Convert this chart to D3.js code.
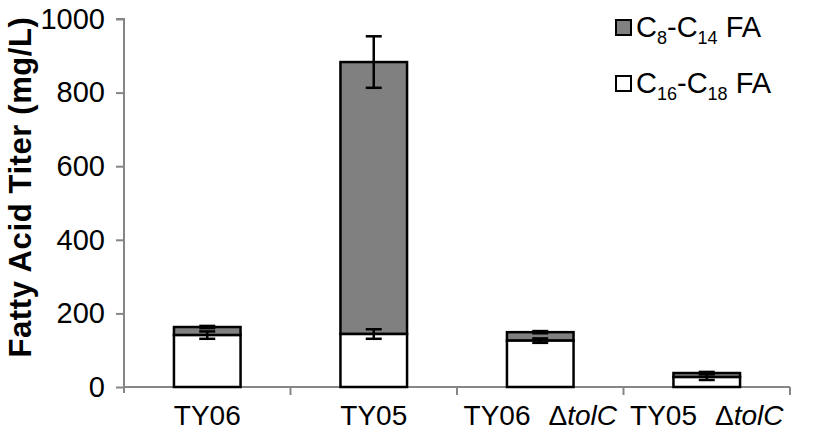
<!DOCTYPE html>
<html><head><meta charset="utf-8">
<script src="https://cdn.jsdelivr.net/npm/d3@7"></script>
<style>body{margin:0;background:#fff;} svg{display:block;font-family:"Liberation Sans",Arial,sans-serif;}</style>
</head><body>
<svg id="c" width="816" height="442"></svg>
<script>
const categories = ["TY06", "TY05", "TY06 ΔtolC", "TY05 ΔtolC"];
const longChain = [141, 144, 126, 27];      // C16-C18 FA
const mediumChain = [22, 739, 23, 11];      // C8-C14 FA (stacked on top)
const longErr = [10, 13, 6, 8];
const totalErr = [3, 70, 3, 3];
const yTicks = [0, 200, 400, 600, 800, 1000];

const svg = d3.select("#c");
const m = {left: 124, right: 790, top: 19, bottom: 387};
const x = d3.scaleBand().domain(categories).range([m.left, m.right]).paddingInner(0).paddingOuter(0);
const y = d3.scaleLinear().domain([0, 1000]).range([m.bottom, m.top]);
const axisColor = "#868686";
const bw = x.bandwidth() * 0.40;

// y axis
const ya = svg.append("g").attr("transform", `translate(${m.left},0)`)
  .call(d3.axisLeft(y).tickValues(yTicks).tickSize(8).tickPadding(11).tickFormat(d3.format("d")));
ya.select(".domain").attr("stroke", axisColor).attr("stroke-width", 2).attr("d", `M-8,${y(1000)}H0V${m.bottom+6}`);
ya.selectAll(".tick line").attr("stroke", axisColor).attr("stroke-width", 2);
ya.selectAll(".tick text").attr("font-size", 29).attr("fill", "#000").attr("font-family", "Liberation Sans, Arial, sans-serif");

// x axis
const xa = svg.append("g").attr("transform", `translate(0,${m.bottom})`);
xa.append("line").attr("x1", m.left).attr("x2", m.right).attr("stroke", axisColor).attr("stroke-width", 2);
const bounds = categories.map(c => x(c)).concat([m.right]);
xa.selectAll("line.t").data(bounds.slice(1)).join("line").attr("class","t")
  .attr("x1", d => d).attr("x2", d => d).attr("y1", 0).attr("y2", 8)
  .attr("stroke", axisColor).attr("stroke-width", 2);

const lbl = xa.selectAll("text").data(categories).join("text")
  .attr("x", d => x(d) + x.bandwidth()/2).attr("y", 38)
  .attr("text-anchor", "middle").attr("font-size", 28).attr("fill", "#000");
lbl.each(function(d){
  const t = d3.select(this);
  const parts = d.split(" ");
  t.append("tspan").text(parts[0]);
  if (parts[1]) {
    t.append("tspan").attr("dx", 18).text("Δ");
    t.append("tspan").attr("font-style", "italic").text(parts[1].slice(1));
  }
});

// bars
const g = svg.append("g");
categories.forEach((c, i) => {
  const cx = x(c) + x.bandwidth()/2;
  const total = longChain[i] + mediumChain[i];
  g.append("rect").attr("x", cx - bw/2).attr("width", bw)
    .attr("y", y(total)).attr("height", y(longChain[i]) - y(total))
    .attr("fill", "#808080").attr("stroke", "#000").attr("stroke-width", 2.5);
  g.append("rect").attr("x", cx - bw/2).attr("width", bw)
    .attr("y", y(longChain[i])).attr("height", y(0) - y(longChain[i]))
    .attr("fill", "#fff").attr("stroke", "#000").attr("stroke-width", 2.5);
});
// error bars
const cap = 8;
function errBar(cx, v, e) {
  g.append("line").attr("x1", cx).attr("x2", cx).attr("y1", y(v - e)).attr("y2", y(v + e))
    .attr("stroke", "#000").attr("stroke-width", 2.5);
  [v - e, v + e].forEach(w => g.append("line").attr("x1", cx - cap).attr("x2", cx + cap)
    .attr("y1", y(w)).attr("y2", y(w)).attr("stroke", "#000").attr("stroke-width", 2.5));
}
categories.forEach((c, i) => {
  const cx = x(c) + x.bandwidth()/2;
  errBar(cx, longChain[i] + mediumChain[i], totalErr[i]);
  errBar(cx, longChain[i], longErr[i]);
});

// y title
svg.append("text").attr("transform", "translate(31,187) rotate(-90)")
  .attr("text-anchor", "middle").attr("font-size", 31).attr("font-weight", "bold")
  .attr("letter-spacing", 0.6)
  .text("Fatty Acid Titer (mg/L)");

// legend
const legend = [
  {fill: "#808080", a: "8", b: "14", y: 28},
  {fill: "#fff", a: "16", b: "18", y: 84}
];
legend.forEach(L => {
  svg.append("rect").attr("x", 616).attr("y", L.y - 8).attr("width", 15).attr("height", 15)
    .attr("fill", L.fill).attr("stroke", "#000").attr("stroke-width", 2);
  const t = svg.append("text").attr("x", 636).attr("y", L.y + 9).attr("font-size", 29).attr("fill", "#000");
  t.append("tspan").text("C");
  t.append("tspan").attr("font-size", 18).attr("dy", 7).text(L.a);
  t.append("tspan").attr("dy", -7).text("-C");
  t.append("tspan").attr("font-size", 18).attr("dy", 7).text(L.b);
  t.append("tspan").attr("dy", -7).text(" FA");
});
</script>
</body></html>
